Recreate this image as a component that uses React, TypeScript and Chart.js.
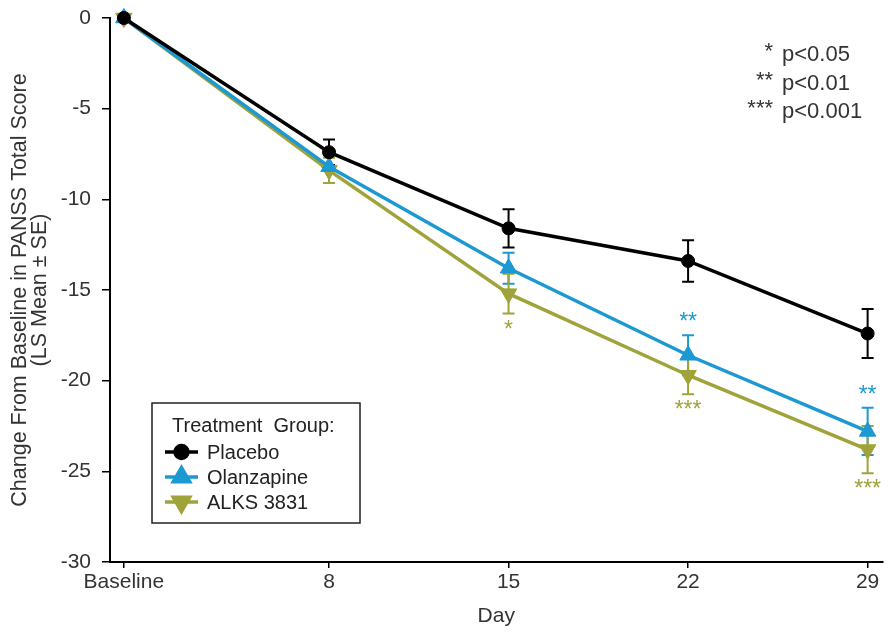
import React, { useEffect, useRef } from "react";
import { Chart, registerables } from "chart.js";
import { drawPoint } from "chart.js/helpers";

Chart.register(...registerables);

// ---- data ----
const days = [0, 8, 15, 22, 29];
const xTickLabels = ["Baseline", "8", "15", "22", "29"];
const seriesNames = ["Placebo", "Olanzapine", "ALKS 3831"];
const placebo = [0, -7.4, -11.6, -13.4, -17.4];
const placeboSE = [0, 0.7, 1.05, 1.15, 1.35];
const olanzapine = [0, -8.2, -13.8, -18.6, -22.8];
const olanzapineSE = [0, 0.9, 0.85, 1.1, 1.3];
const alks = [0, -8.4, -15.2, -19.7, -23.8];
const alksSE = [0, 0.7, 1.1, 1.05, 1.3];
const placeboStars = ["", "", "", "", ""];
const olanzapineStars = ["", "", "", "**", "**"];
const alksStars = ["", "", "*", "***", "***"];
const pValueStars = ["*", "**", "***"];
const pValueLabels = ["p<0.05", "p<0.01", "p<0.001"];
const legendTitle = "Treatment  Group:";
const yTitle = ["Change From Baseline in PANSS Total Score", "(LS Mean \u00B1 SE)"];
const xTitle = "Day";

const FONT = "'Liberation Sans', Arial, sans-serif";
const TEXT = "#333";
const BLACK = "#000000";
const BLUE = "#1C98D2";
const OLIVE = "#9FA339";

const errorBarPlugin = {
  id: "errorBars",
  beforeDatasetsDraw(chart: any) {
    const ctx = chart.ctx;
    const y = chart.scales.y;
    chart.data.datasets.forEach((ds: any, i: number) => {
      const meta = chart.getDatasetMeta(i);
      ctx.save();
      ctx.strokeStyle = ds.borderColor;
      ctx.lineWidth = 2;
      ds.data.forEach((pt: any, j: number) => {
        const se = ds.se[j];
        if (!se) return;
        const px = meta.data[j].x;
        const top = y.getPixelForValue(pt.y + se);
        const bot = y.getPixelForValue(pt.y - se);
        ctx.beginPath();
        ctx.moveTo(px, top);
        ctx.lineTo(px, bot);
        ctx.moveTo(px - 6, top);
        ctx.lineTo(px + 6, top);
        ctx.moveTo(px - 6, bot);
        ctx.lineTo(px + 6, bot);
        ctx.stroke();
      });
      ctx.restore();
    });
  },
  afterDatasetsDraw(chart: any) {
    const ctx = chart.ctx;
    const y = chart.scales.y;
    chart.data.datasets.forEach((ds: any, i: number) => {
      const meta = chart.getDatasetMeta(i);
      ctx.save();
      ctx.fillStyle = ds.borderColor;
      ctx.font = `23px ${FONT}`;
      ctx.textAlign = "center";
      ctx.textBaseline = "alphabetic";
      ds.data.forEach((pt: any, j: number) => {
        const s = ds.stars[j];
        if (!s) return;
        const px = meta.data[j].x;
        let cy;
        if (ds.starSide === "above") {
          cy = y.getPixelForValue(pt.y + ds.se[j]) - 14;
        } else {
          cy = y.getPixelForValue(pt.y - ds.se[j]) + 15;
        }
        ctx.fillText(s, px, cy + 8);
      });
      ctx.restore();
    });
  },
  afterDraw(chart: any) {
    const ctx = chart.ctx;
    const ca = chart.chartArea;
    // p-value key
    ctx.save();
    ctx.fillStyle = TEXT;
    ctx.font = `22px ${FONT}`;
    ctx.textBaseline = "middle";
    pValueLabels.forEach((lab, k) => {
      const cy = ca.top + 37 + k * 28.5;
      ctx.textAlign = "right";
      ctx.save();
      ctx.textBaseline = "alphabetic";
      ctx.fillText(pValueStars[k], ca.left + 663, cy + 3);
      ctx.restore();
      ctx.textAlign = "left";
      ctx.fillText(lab, ca.left + 672, cy);
    });
    ctx.restore();

    // legend box
    const lx = ca.left + 42;
    const ly = ca.top + 385;
    const lw = 208;
    const lh = 120;
    ctx.save();
    ctx.strokeStyle = "#222";
    ctx.lineWidth = 1.5;
    ctx.strokeRect(lx, ly, lw, lh);
    ctx.fillStyle = "#222";
    ctx.font = `20px ${FONT}`;
    ctx.textBaseline = "middle";
    ctx.textAlign = "left";
    ctx.fillText(legendTitle, lx + 20, ly + 23);
    chart.data.datasets.forEach((ds: any, i: number) => {
      const cy = ly + 49 + i * 25;
      ctx.strokeStyle = ds.borderColor;
      ctx.fillStyle = ds.borderColor;
      ctx.lineWidth = 3.5;
      ctx.beginPath();
      ctx.moveTo(lx + 13, cy);
      ctx.lineTo(lx + 46, cy);
      ctx.stroke();
      drawPoint(ctx, {
        pointStyle: ds.pointStyle,
        rotation: ds.pointRotation || 0,
        radius: ds.pointRadius,
        borderWidth: 1,
      }, lx + 29.5, cy);
      ctx.fillStyle = "#222";
      ctx.fillText(ds.label, lx + 55, cy + 1);
    });
    ctx.restore();
  },
};

export default function App() {
  const ref = useRef<HTMLCanvasElement | null>(null);
  useEffect(() => {
    document.body.style.margin = "0";
    const mk = (vals: number[]) => vals.map((v, i) => ({ x: days[i], y: v }));
    const common = {
      borderWidth: 3.5,
      pointBorderWidth: 1,
      tension: 0,
      clip: false,
    };
    const chart = new Chart(ref.current as HTMLCanvasElement, {
      type: "line",
      data: {
        datasets: [
          {
            ...common,
            label: seriesNames[0],
            data: mk(placebo),
            se: placeboSE,
            stars: placeboStars,
            starSide: "above",
            borderColor: BLACK,
            backgroundColor: BLACK,
            pointBackgroundColor: BLACK,
            pointBorderColor: BLACK,
            pointStyle: "circle",
            pointRadius: 6.5,
          },
          {
            ...common,
            label: seriesNames[1],
            data: mk(olanzapine),
            se: olanzapineSE,
            stars: olanzapineStars,
            starSide: "above",
            borderColor: BLUE,
            backgroundColor: BLUE,
            pointBackgroundColor: BLUE,
            pointBorderColor: BLUE,
            pointStyle: "triangle",
            pointRadius: 9.5,
          },
          {
            ...common,
            label: seriesNames[2],
            data: mk(alks),
            se: alksSE,
            stars: alksStars,
            starSide: "below",
            borderColor: OLIVE,
            backgroundColor: OLIVE,
            pointBackgroundColor: OLIVE,
            pointBorderColor: OLIVE,
            pointStyle: "triangle",
            pointRotation: 180,
            pointRadius: 9.5,
          },
        ] as any,
      },
      options: {
        animation: false,
        responsive: true,
        maintainAspectRatio: false,
        layout: { padding: { top: 18, right: 1, left: 0, bottom: 0 } },
        plugins: {
          legend: { display: false },
          tooltip: { enabled: false },
        },
        scales: {
          x: {
            type: "linear",
            min: -0.54,
            max: 29.58,
            afterBuildTicks: (scale: any) => {
              scale.ticks = days.map((d) => ({ value: d }));
            },
            afterFit: (scale: any) => {
              scale.height = 73;
              scale.paddingLeft = 0;
              scale.paddingRight = 0;
            },
            ticks: {
              autoSkip: false,
              maxRotation: 0,
              padding: 2,
              color: TEXT,
              font: { family: FONT, size: 21 },
              callback: (v: any) => xTickLabels[days.indexOf(Number(v))] ?? "",
            },
            grid: {
              display: true,
              drawOnChartArea: false,
              drawTicks: true,
              tickLength: 6,
              color: BLACK,
              lineWidth: 1.5,
            },
            border: { display: true, color: BLACK, width: 2 },
            title: {
              display: true,
              text: xTitle,
              color: TEXT,
              font: { family: FONT, size: 21 },
              padding: { top: 0, bottom: 6 },
            },
          },
          y: {
            type: "linear",
            min: -30,
            max: 0,
            afterFit: (scale: any) => {
              scale.width = 110;
              scale.paddingTop = 0;
              scale.paddingBottom = 0;
            },
            ticks: {
              stepSize: 5,
              padding: 11,
              color: TEXT,
              font: { family: FONT, size: 21 },
            },
            grid: {
              display: true,
              drawOnChartArea: false,
              drawTicks: true,
              tickLength: 8,
              color: BLACK,
              lineWidth: 1.5,
            },
            border: { display: true, color: BLACK, width: 2 },
            title: {
              display: true,
              text: yTitle,
              color: TEXT,
              font: { family: FONT, size: 21.5, lineHeight: 0.93 },
              padding: { top: 10, bottom: 0 },
            },
          },
        },
      } as any,
      plugins: [errorBarPlugin],
    });
    return () => chart.destroy();
  }, []);
  return (
    <div style={{ width: 893, height: 635, position: "relative" }}>
      <canvas ref={ref} />
    </div>
  );
}
